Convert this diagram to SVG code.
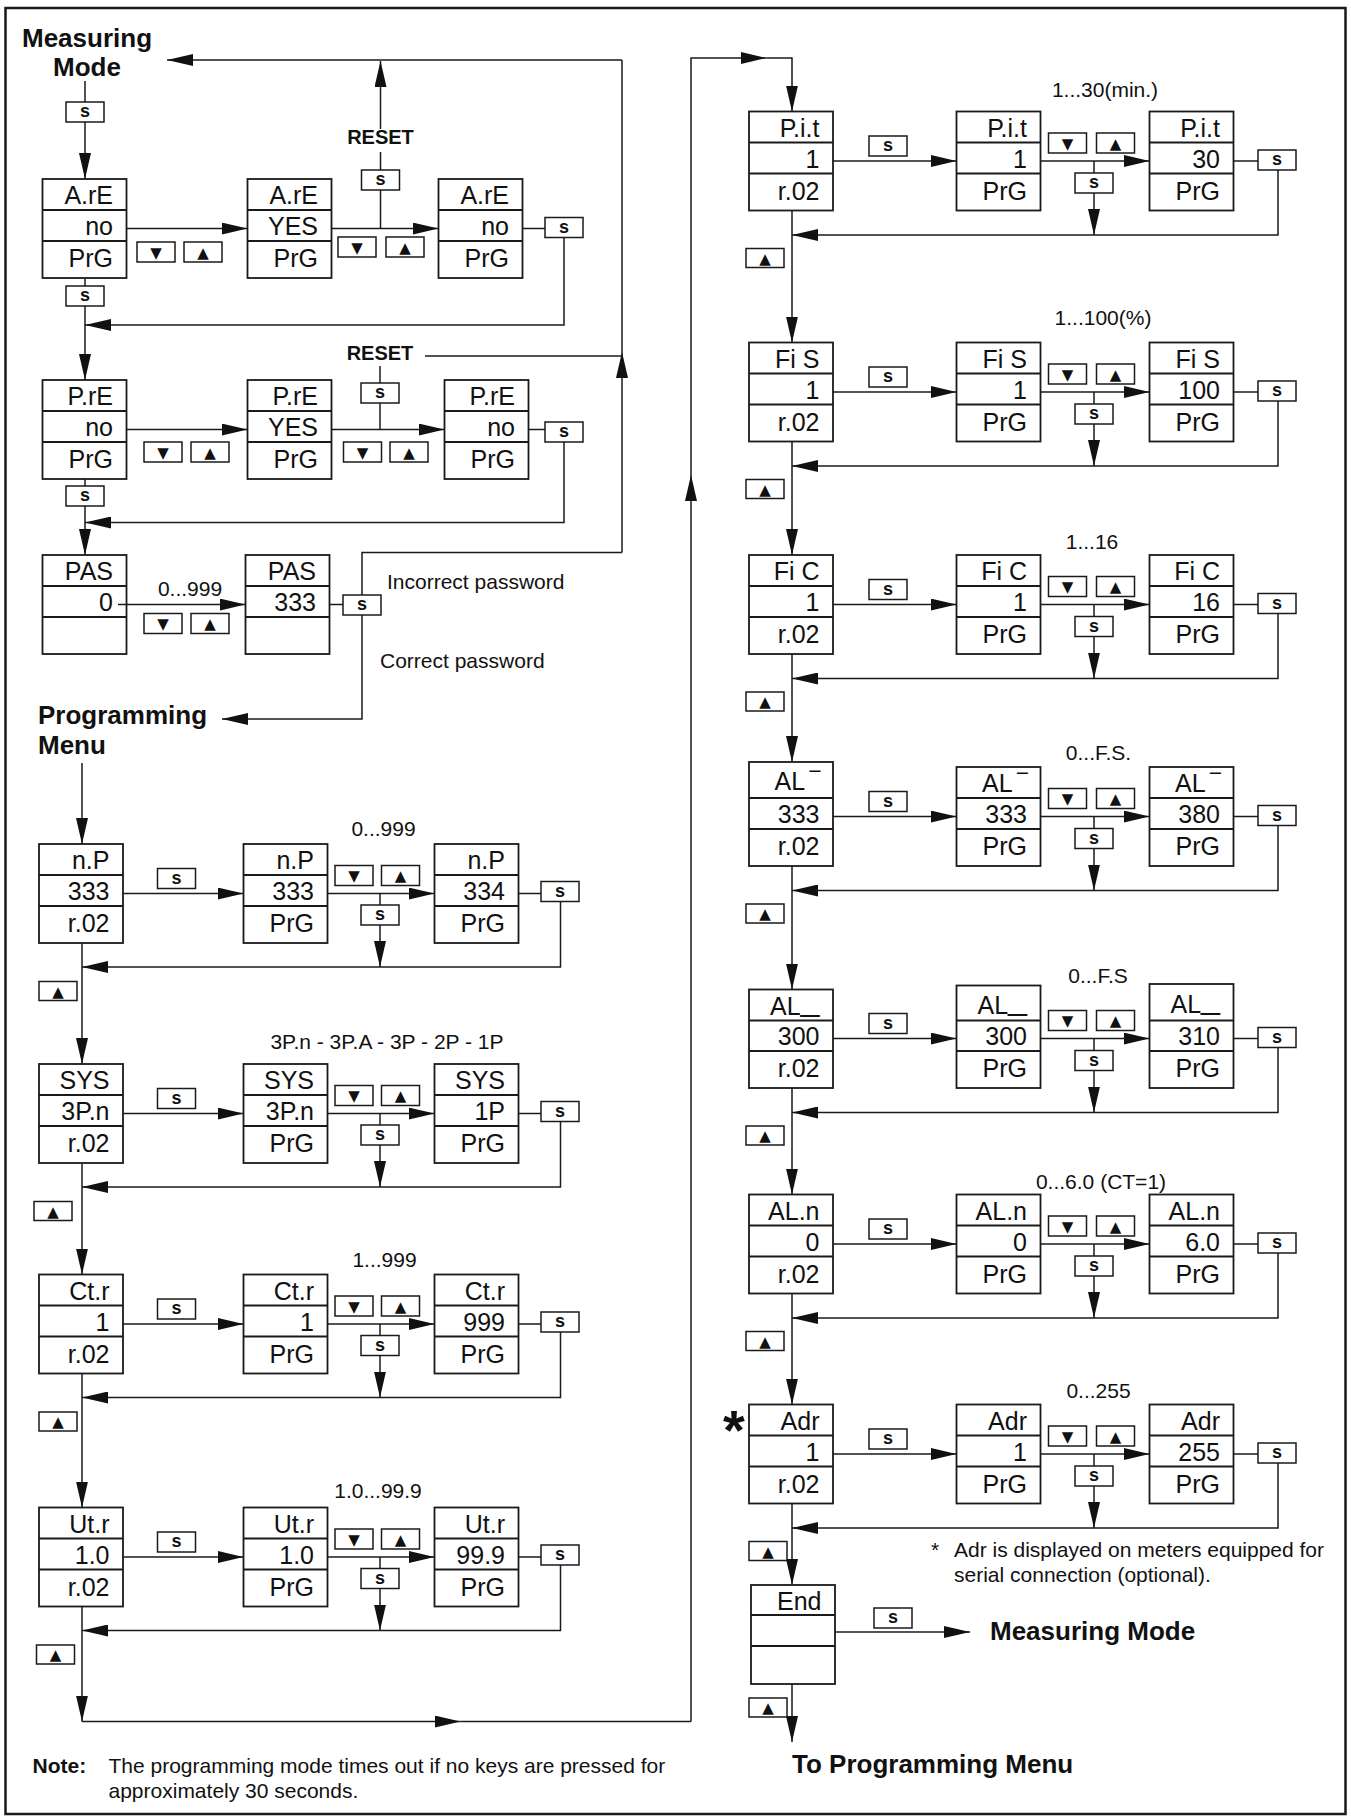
<svg xmlns="http://www.w3.org/2000/svg" width="1351" height="1817" viewBox="0 0 1351 1817">
<style>
.bx{fill:#fff;stroke:#1a1a1a;stroke-width:1.8}
.dv{stroke:#1a1a1a;stroke-width:1.8}
.ln{fill:none;stroke:#1a1a1a;stroke-width:1.5}
.ar{fill:none;stroke:#1a1a1a;stroke-width:1.5;marker-end:url(#ah)}
.t{font-family:"Liberation Sans",Arial,sans-serif;font-size:25px;fill:#111;text-anchor:end}
.lb{font-family:"Liberation Sans",Arial,sans-serif;font-size:21px;fill:#111}
.c{text-anchor:middle}
.hd{font-family:"Liberation Sans",Arial,sans-serif;font-size:26px;font-weight:bold;fill:#111}
.rs{font-family:"Liberation Sans",Arial,sans-serif;font-size:20px;font-weight:bold;fill:#111;text-anchor:middle}
.key{fill:#fff;stroke:#1a1a1a;stroke-width:1.5}
.ks{font-family:"Liberation Sans",Arial,sans-serif;font-size:18px;font-weight:bold;text-anchor:middle;fill:#111}
.kt{font-family:"DejaVu Sans",sans-serif;font-size:15px;text-anchor:middle;fill:#111}
.ov{font-size:28px}
.us{font-size:34px}
</style>
<defs>
<marker id="ah" viewBox="0 0 26 12" markerWidth="26" markerHeight="12" refX="26" refY="6" orient="auto" markerUnits="userSpaceOnUse"><path d="M0,0 L26,6 L0,12 z" fill="#111"/></marker>
</defs>
<rect x="5.5" y="8" width="1340" height="1806" fill="none" stroke="#1a1a1a" stroke-width="2.5"/>

<g id="connectors">
<path class="ar" d="M622,60 H167"/>
<path class="ar" d="M622,552.5 V352"/>
<path class="ln" d="M622,352 V60"/>
<path class="ar" d="M85,81 V179"/>
<path class="ar" d="M126.5,228.5 H247.5"/>
<path class="ar" d="M331.5,228.5 H438.5"/>
<path class="ln" d="M380.5,228.5 V170 M380.5,170 V152"/>
<path class="ar" d="M380.5,129 V61"/>
<path class="ln" d="M522.5,228.5 H545"/>
<path class="ar" d="M564,237.5 V325 H85"/>
<path class="ar" d="M85,278 V380"/>
<path class="ar" d="M126.5,429.5 H247.5"/>
<path class="ar" d="M331.5,429.5 H444.5"/>
<path class="ln" d="M380,429.5 V366"/>
<path class="ln" d="M425,356 H622"/>
<path class="ln" d="M528.5,429.5 H545"/>
<path class="ar" d="M564,442 V522.5 H85"/>
<path class="ar" d="M85,479 V555"/>
<path class="ar" d="M118,604.5 H245.5"/>
<path class="ln" d="M329.5,604.5 H343"/>
<path class="ln" d="M362,595 V552.5 H622"/>
<path class="ar" d="M362,615 V719 H222"/>
<path class="ar" d="M82,763 V844"/>
<path class="ar" d="M123,893.5 H243.5"/>
<path class="ar" d="M327.5,893.5 H434.5"/>
<path class="ar" d="M380,893.5 V967"/>
<path class="ln" d="M518.5,893.5 H541"/>
<path class="ar" d="M560.5,901.5 V967 H82"/>
<path class="ar" d="M82,943 V1064"/>
<path class="ar" d="M123,1113.5 H243.5"/>
<path class="ar" d="M327.5,1113.5 H434.5"/>
<path class="ar" d="M380,1113.5 V1187"/>
<path class="ln" d="M518.5,1113.5 H541"/>
<path class="ar" d="M560.5,1121.5 V1187 H82"/>
<path class="ar" d="M82,1163 V1274.5"/>
<path class="ar" d="M123,1324 H243.5"/>
<path class="ar" d="M327.5,1324 H434.5"/>
<path class="ar" d="M380,1324 V1397.5"/>
<path class="ln" d="M518.5,1324 H541"/>
<path class="ar" d="M560.5,1332 V1397.5 H82"/>
<path class="ar" d="M82,1373.5 V1507.5"/>
<path class="ar" d="M123,1557 H243.5"/>
<path class="ar" d="M327.5,1557 H434.5"/>
<path class="ar" d="M380,1557 V1630.5"/>
<path class="ln" d="M518.5,1557 H541"/>
<path class="ar" d="M560.5,1565 V1630.5 H82"/>
<path class="ar" d="M82,1606.5 V1721.5"/>
<path class="ar" d="M82,1721.5 H460.5"/>
<path class="ln" d="M460.5,1721.5 H691"/>
<path class="ar" d="M691,1721.5 V475"/>
<path class="ar" d="M691,475 V58 H766.5"/>
<path class="ar" d="M766.5,58 H792 V111.5"/>
<path class="ar" d="M833,161 H956.5"/>
<path class="ar" d="M1040.5,161 H1149.5"/>
<path class="ar" d="M1094,161 V235"/>
<path class="ln" d="M1233.5,161 H1258"/>
<path class="ar" d="M1278,170 V235 H792"/>
<path class="ar" d="M792,210.5 V342.5"/>
<path class="ar" d="M833,392 H956.5"/>
<path class="ar" d="M1040.5,392 H1149.5"/>
<path class="ar" d="M1094,392 V466"/>
<path class="ln" d="M1233.5,392 H1258"/>
<path class="ar" d="M1278,401 V466 H792"/>
<path class="ar" d="M792,441.5 V555"/>
<path class="ar" d="M833,604.5 H956.5"/>
<path class="ar" d="M1040.5,604.5 H1149.5"/>
<path class="ar" d="M1094,604.5 V678.5"/>
<path class="ln" d="M1233.5,604.5 H1258"/>
<path class="ar" d="M1278,613.5 V678.5 H792"/>
<path class="ar" d="M792,654 V762"/>
<path class="ar" d="M833,816.5 H956.5"/>
<path class="ar" d="M1040.5,816.5 H1149.5"/>
<path class="ar" d="M1094,816.5 V890.5"/>
<path class="ln" d="M1233.5,816.5 H1258"/>
<path class="ar" d="M1278,825.5 V890.5 H792"/>
<path class="ar" d="M792,866 V989.5"/>
<path class="ar" d="M833,1038.5 H956.5"/>
<path class="ar" d="M1040.5,1038.5 H1149.5"/>
<path class="ar" d="M1094,1038.5 V1112.5"/>
<path class="ln" d="M1233.5,1038.5 H1258"/>
<path class="ar" d="M1278,1047.5 V1112.5 H792"/>
<path class="ar" d="M792,1088 V1194.5"/>
<path class="ar" d="M833,1244 H956.5"/>
<path class="ar" d="M1040.5,1244 H1149.5"/>
<path class="ar" d="M1094,1244 V1318"/>
<path class="ln" d="M1233.5,1244 H1258"/>
<path class="ar" d="M1278,1253 V1318 H792"/>
<path class="ar" d="M792,1293.5 V1404.5"/>
<path class="ar" d="M833,1454 H956.5"/>
<path class="ar" d="M1040.5,1454 H1149.5"/>
<path class="ar" d="M1094,1454 V1528"/>
<path class="ln" d="M1233.5,1454 H1258"/>
<path class="ar" d="M1278,1463 V1528 H792"/>
<path class="ar" d="M792,1503.5 V1585"/>
<path class="ar" d="M835,1632 H970"/>
<path class="ar" d="M792,1684 V1742"/>
</g>

<g id="n-are1"><rect class="bx" x="42.5" y="179" width="84" height="99"/><line class="dv" x1="42.5" y1="210" x2="126.5" y2="210"/><line class="dv" x1="42.5" y1="241" x2="126.5" y2="241"/><text class="t" x="113" y="204">A.rE</text><text class="t" x="113" y="235">no</text><text class="t" x="113" y="267">PrG</text></g>
<g id="n-are2"><rect class="bx" x="247.5" y="179" width="84" height="99"/><line class="dv" x1="247.5" y1="210" x2="331.5" y2="210"/><line class="dv" x1="247.5" y1="241" x2="331.5" y2="241"/><text class="t" x="318" y="204">A.rE</text><text class="t" x="318" y="235">YES</text><text class="t" x="318" y="267">PrG</text></g>
<g id="n-are3"><rect class="bx" x="438.5" y="179" width="84" height="99"/><line class="dv" x1="438.5" y1="210" x2="522.5" y2="210"/><line class="dv" x1="438.5" y1="241" x2="522.5" y2="241"/><text class="t" x="509" y="204">A.rE</text><text class="t" x="509" y="235">no</text><text class="t" x="509" y="267">PrG</text></g>
<g id="n-pre1"><rect class="bx" x="42.5" y="380" width="84" height="99"/><line class="dv" x1="42.5" y1="411" x2="126.5" y2="411"/><line class="dv" x1="42.5" y1="442" x2="126.5" y2="442"/><text class="t" x="113" y="405">P.rE</text><text class="t" x="113" y="436">no</text><text class="t" x="113" y="468">PrG</text></g>
<g id="n-pre2"><rect class="bx" x="247.5" y="380" width="84" height="99"/><line class="dv" x1="247.5" y1="411" x2="331.5" y2="411"/><line class="dv" x1="247.5" y1="442" x2="331.5" y2="442"/><text class="t" x="318" y="405">P.rE</text><text class="t" x="318" y="436">YES</text><text class="t" x="318" y="468">PrG</text></g>
<g id="n-pre3"><rect class="bx" x="444.5" y="380" width="84" height="99"/><line class="dv" x1="444.5" y1="411" x2="528.5" y2="411"/><line class="dv" x1="444.5" y1="442" x2="528.5" y2="442"/><text class="t" x="515" y="405">P.rE</text><text class="t" x="515" y="436">no</text><text class="t" x="515" y="468">PrG</text></g>
<g id="n-pas1"><rect class="bx" x="42.5" y="555" width="84" height="99"/><line class="dv" x1="42.5" y1="586" x2="126.5" y2="586"/><line class="dv" x1="42.5" y1="617" x2="126.5" y2="617"/><text class="t" x="113" y="580">PAS</text><text class="t" x="113" y="611">0</text></g>
<g id="n-pas2"><rect class="bx" x="245.5" y="555" width="84" height="99"/><line class="dv" x1="245.5" y1="586" x2="329.5" y2="586"/><line class="dv" x1="245.5" y1="617" x2="329.5" y2="617"/><text class="t" x="316" y="580">PAS</text><text class="t" x="316" y="611">333</text></g>
<path class="ln" d="M118,604.5 H126.5"/>

<g id="n-np1"><rect class="bx" x="39" y="844" width="84" height="99"/><line class="dv" x1="39" y1="875" x2="123" y2="875"/><line class="dv" x1="39" y1="906" x2="123" y2="906"/><text class="t" x="109.5" y="869">n.P</text><text class="t" x="109.5" y="900">333</text><text class="t" x="109.5" y="932">r.02</text></g>
<g id="n-np2"><rect class="bx" x="243.5" y="844" width="84" height="99"/><line class="dv" x1="243.5" y1="875" x2="327.5" y2="875"/><line class="dv" x1="243.5" y1="906" x2="327.5" y2="906"/><text class="t" x="314" y="869">n.P</text><text class="t" x="314" y="900">333</text><text class="t" x="314" y="932">PrG</text></g>
<g id="n-np3"><rect class="bx" x="434.5" y="844" width="84" height="99"/><line class="dv" x1="434.5" y1="875" x2="518.5" y2="875"/><line class="dv" x1="434.5" y1="906" x2="518.5" y2="906"/><text class="t" x="505" y="869">n.P</text><text class="t" x="505" y="900">334</text><text class="t" x="505" y="932">PrG</text></g>
<g id="n-sys1"><rect class="bx" x="39" y="1064" width="84" height="99"/><line class="dv" x1="39" y1="1095" x2="123" y2="1095"/><line class="dv" x1="39" y1="1126" x2="123" y2="1126"/><text class="t" x="109.5" y="1089">SYS</text><text class="t" x="109.5" y="1120">3P.n</text><text class="t" x="109.5" y="1152">r.02</text></g>
<g id="n-sys2"><rect class="bx" x="243.5" y="1064" width="84" height="99"/><line class="dv" x1="243.5" y1="1095" x2="327.5" y2="1095"/><line class="dv" x1="243.5" y1="1126" x2="327.5" y2="1126"/><text class="t" x="314" y="1089">SYS</text><text class="t" x="314" y="1120">3P.n</text><text class="t" x="314" y="1152">PrG</text></g>
<g id="n-sys3"><rect class="bx" x="434.5" y="1064" width="84" height="99"/><line class="dv" x1="434.5" y1="1095" x2="518.5" y2="1095"/><line class="dv" x1="434.5" y1="1126" x2="518.5" y2="1126"/><text class="t" x="505" y="1089">SYS</text><text class="t" x="505" y="1120">1P</text><text class="t" x="505" y="1152">PrG</text></g>
<g id="n-ctr1"><rect class="bx" x="39" y="1274.5" width="84" height="99"/><line class="dv" x1="39" y1="1305.5" x2="123" y2="1305.5"/><line class="dv" x1="39" y1="1336.5" x2="123" y2="1336.5"/><text class="t" x="109.5" y="1299.5">Ct.r</text><text class="t" x="109.5" y="1330.5">1</text><text class="t" x="109.5" y="1362.5">r.02</text></g>
<g id="n-ctr2"><rect class="bx" x="243.5" y="1274.5" width="84" height="99"/><line class="dv" x1="243.5" y1="1305.5" x2="327.5" y2="1305.5"/><line class="dv" x1="243.5" y1="1336.5" x2="327.5" y2="1336.5"/><text class="t" x="314" y="1299.5">Ct.r</text><text class="t" x="314" y="1330.5">1</text><text class="t" x="314" y="1362.5">PrG</text></g>
<g id="n-ctr3"><rect class="bx" x="434.5" y="1274.5" width="84" height="99"/><line class="dv" x1="434.5" y1="1305.5" x2="518.5" y2="1305.5"/><line class="dv" x1="434.5" y1="1336.5" x2="518.5" y2="1336.5"/><text class="t" x="505" y="1299.5">Ct.r</text><text class="t" x="505" y="1330.5">999</text><text class="t" x="505" y="1362.5">PrG</text></g>
<g id="n-utr1"><rect class="bx" x="39" y="1507.5" width="84" height="99"/><line class="dv" x1="39" y1="1538.5" x2="123" y2="1538.5"/><line class="dv" x1="39" y1="1569.5" x2="123" y2="1569.5"/><text class="t" x="109.5" y="1532.5">Ut.r</text><text class="t" x="109.5" y="1563.5">1.0</text><text class="t" x="109.5" y="1595.5">r.02</text></g>
<g id="n-utr2"><rect class="bx" x="243.5" y="1507.5" width="84" height="99"/><line class="dv" x1="243.5" y1="1538.5" x2="327.5" y2="1538.5"/><line class="dv" x1="243.5" y1="1569.5" x2="327.5" y2="1569.5"/><text class="t" x="314" y="1532.5">Ut.r</text><text class="t" x="314" y="1563.5">1.0</text><text class="t" x="314" y="1595.5">PrG</text></g>
<g id="n-utr3"><rect class="bx" x="434.5" y="1507.5" width="84" height="99"/><line class="dv" x1="434.5" y1="1538.5" x2="518.5" y2="1538.5"/><line class="dv" x1="434.5" y1="1569.5" x2="518.5" y2="1569.5"/><text class="t" x="505" y="1532.5">Ut.r</text><text class="t" x="505" y="1563.5">99.9</text><text class="t" x="505" y="1595.5">PrG</text></g>

<g id="n-pit1"><rect class="bx" x="749" y="111.5" width="84" height="99"/><line class="dv" x1="749" y1="142.5" x2="833" y2="142.5"/><line class="dv" x1="749" y1="173.5" x2="833" y2="173.5"/><text class="t" x="819.5" y="136.5">P.i.t</text><text class="t" x="819.5" y="167.5">1</text><text class="t" x="819.5" y="199.5">r.02</text></g>
<g id="n-pit2"><rect class="bx" x="956.5" y="111.5" width="84" height="99"/><line class="dv" x1="956.5" y1="142.5" x2="1040.5" y2="142.5"/><line class="dv" x1="956.5" y1="173.5" x2="1040.5" y2="173.5"/><text class="t" x="1027" y="136.5">P.i.t</text><text class="t" x="1027" y="167.5">1</text><text class="t" x="1027" y="199.5">PrG</text></g>
<g id="n-pit3"><rect class="bx" x="1149.5" y="111.5" width="84" height="99"/><line class="dv" x1="1149.5" y1="142.5" x2="1233.5" y2="142.5"/><line class="dv" x1="1149.5" y1="173.5" x2="1233.5" y2="173.5"/><text class="t" x="1220" y="136.5">P.i.t</text><text class="t" x="1220" y="167.5">30</text><text class="t" x="1220" y="199.5">PrG</text></g>
<g id="n-fis1"><rect class="bx" x="749" y="342.5" width="84" height="99"/><line class="dv" x1="749" y1="373.5" x2="833" y2="373.5"/><line class="dv" x1="749" y1="404.5" x2="833" y2="404.5"/><text class="t" x="819.5" y="367.5">Fi S</text><text class="t" x="819.5" y="398.5">1</text><text class="t" x="819.5" y="430.5">r.02</text></g>
<g id="n-fis2"><rect class="bx" x="956.5" y="342.5" width="84" height="99"/><line class="dv" x1="956.5" y1="373.5" x2="1040.5" y2="373.5"/><line class="dv" x1="956.5" y1="404.5" x2="1040.5" y2="404.5"/><text class="t" x="1027" y="367.5">Fi S</text><text class="t" x="1027" y="398.5">1</text><text class="t" x="1027" y="430.5">PrG</text></g>
<g id="n-fis3"><rect class="bx" x="1149.5" y="342.5" width="84" height="99"/><line class="dv" x1="1149.5" y1="373.5" x2="1233.5" y2="373.5"/><line class="dv" x1="1149.5" y1="404.5" x2="1233.5" y2="404.5"/><text class="t" x="1220" y="367.5">Fi S</text><text class="t" x="1220" y="398.5">100</text><text class="t" x="1220" y="430.5">PrG</text></g>
<g id="n-fic1"><rect class="bx" x="749" y="555" width="84" height="99"/><line class="dv" x1="749" y1="586" x2="833" y2="586"/><line class="dv" x1="749" y1="617" x2="833" y2="617"/><text class="t" x="819.5" y="580">Fi C</text><text class="t" x="819.5" y="611">1</text><text class="t" x="819.5" y="643">r.02</text></g>
<g id="n-fic2"><rect class="bx" x="956.5" y="555" width="84" height="99"/><line class="dv" x1="956.5" y1="586" x2="1040.5" y2="586"/><line class="dv" x1="956.5" y1="617" x2="1040.5" y2="617"/><text class="t" x="1027" y="580">Fi C</text><text class="t" x="1027" y="611">1</text><text class="t" x="1027" y="643">PrG</text></g>
<g id="n-fic3"><rect class="bx" x="1149.5" y="555" width="84" height="99"/><line class="dv" x1="1149.5" y1="586" x2="1233.5" y2="586"/><line class="dv" x1="1149.5" y1="617" x2="1233.5" y2="617"/><text class="t" x="1220" y="580">Fi C</text><text class="t" x="1220" y="611">16</text><text class="t" x="1220" y="643">PrG</text></g>
<g id="n-alh1"><rect class="bx" x="749" y="762" width="84" height="104"/><line class="dv" x1="749" y1="798" x2="833" y2="798"/><line class="dv" x1="749" y1="829" x2="833" y2="829"/><text class="t" x="819.5" y="790">AL<tspan class="ov" dx="5" dy="2">‾</tspan></text><text class="t" x="819.5" y="823">333</text><text class="t" x="819.5" y="855">r.02</text></g>
<g id="n-alh2"><rect class="bx" x="956.5" y="767" width="84" height="99"/><line class="dv" x1="956.5" y1="798" x2="1040.5" y2="798"/><line class="dv" x1="956.5" y1="829" x2="1040.5" y2="829"/><text class="t" x="1027" y="792">AL<tspan class="ov" dx="5" dy="2">‾</tspan></text><text class="t" x="1027" y="823">333</text><text class="t" x="1027" y="855">PrG</text></g>
<g id="n-alh3"><rect class="bx" x="1149.5" y="767" width="84" height="99"/><line class="dv" x1="1149.5" y1="798" x2="1233.5" y2="798"/><line class="dv" x1="1149.5" y1="829" x2="1233.5" y2="829"/><text class="t" x="1220" y="792">AL<tspan class="ov" dx="5" dy="2">‾</tspan></text><text class="t" x="1220" y="823">380</text><text class="t" x="1220" y="855">PrG</text></g>
<g id="n-all1"><rect class="bx" x="749" y="989.5" width="84" height="98.5"/><line class="dv" x1="749" y1="1020.5" x2="833" y2="1020.5"/><line class="dv" x1="749" y1="1051" x2="833" y2="1051"/><text class="t" x="819.5" y="1014.5">AL<tspan class="us" dy="-5">_</tspan></text><text class="t" x="819.5" y="1045">300</text><text class="t" x="819.5" y="1077">r.02</text></g>
<g id="n-all2"><rect class="bx" x="956.5" y="985.5" width="84" height="102.5"/><line class="dv" x1="956.5" y1="1020.5" x2="1040.5" y2="1020.5"/><line class="dv" x1="956.5" y1="1051" x2="1040.5" y2="1051"/><text class="t" x="1027" y="1013.5">AL<tspan class="us" dy="-5">_</tspan></text><text class="t" x="1027" y="1045">300</text><text class="t" x="1027" y="1077">PrG</text></g>
<g id="n-all3"><rect class="bx" x="1149.5" y="984" width="84" height="104"/><line class="dv" x1="1149.5" y1="1020.5" x2="1233.5" y2="1020.5"/><line class="dv" x1="1149.5" y1="1051" x2="1233.5" y2="1051"/><text class="t" x="1220" y="1012.5">AL<tspan class="us" dy="-5">_</tspan></text><text class="t" x="1220" y="1045">310</text><text class="t" x="1220" y="1077">PrG</text></g>
<g id="n-aln1"><rect class="bx" x="749" y="1194.5" width="84" height="99"/><line class="dv" x1="749" y1="1225.5" x2="833" y2="1225.5"/><line class="dv" x1="749" y1="1256.5" x2="833" y2="1256.5"/><text class="t" x="819.5" y="1219.5">AL.n</text><text class="t" x="819.5" y="1250.5">0</text><text class="t" x="819.5" y="1282.5">r.02</text></g>
<g id="n-aln2"><rect class="bx" x="956.5" y="1194.5" width="84" height="99"/><line class="dv" x1="956.5" y1="1225.5" x2="1040.5" y2="1225.5"/><line class="dv" x1="956.5" y1="1256.5" x2="1040.5" y2="1256.5"/><text class="t" x="1027" y="1219.5">AL.n</text><text class="t" x="1027" y="1250.5">0</text><text class="t" x="1027" y="1282.5">PrG</text></g>
<g id="n-aln3"><rect class="bx" x="1149.5" y="1194.5" width="84" height="99"/><line class="dv" x1="1149.5" y1="1225.5" x2="1233.5" y2="1225.5"/><line class="dv" x1="1149.5" y1="1256.5" x2="1233.5" y2="1256.5"/><text class="t" x="1220" y="1219.5">AL.n</text><text class="t" x="1220" y="1250.5">6.0</text><text class="t" x="1220" y="1282.5">PrG</text></g>
<g id="n-adr1"><rect class="bx" x="749" y="1404.5" width="84" height="99"/><line class="dv" x1="749" y1="1435.5" x2="833" y2="1435.5"/><line class="dv" x1="749" y1="1466.5" x2="833" y2="1466.5"/><text class="t" x="819.5" y="1429.5">Adr</text><text class="t" x="819.5" y="1460.5">1</text><text class="t" x="819.5" y="1492.5">r.02</text></g>
<g id="n-adr2"><rect class="bx" x="956.5" y="1404.5" width="84" height="99"/><line class="dv" x1="956.5" y1="1435.5" x2="1040.5" y2="1435.5"/><line class="dv" x1="956.5" y1="1466.5" x2="1040.5" y2="1466.5"/><text class="t" x="1027" y="1429.5">Adr</text><text class="t" x="1027" y="1460.5">1</text><text class="t" x="1027" y="1492.5">PrG</text></g>
<g id="n-adr3"><rect class="bx" x="1149.5" y="1404.5" width="84" height="99"/><line class="dv" x1="1149.5" y1="1435.5" x2="1233.5" y2="1435.5"/><line class="dv" x1="1149.5" y1="1466.5" x2="1233.5" y2="1466.5"/><text class="t" x="1220" y="1429.5">Adr</text><text class="t" x="1220" y="1460.5">255</text><text class="t" x="1220" y="1492.5">PrG</text></g>
<g id="n-end"><rect class="bx" x="751" y="1585" width="84" height="99"/><line class="dv" x1="751" y1="1615" x2="835" y2="1615"/><line class="dv" x1="751" y1="1646" x2="835" y2="1646"/><text class="t" x="821.5" y="1610">End</text></g>

<g id="keys">
<rect class="key" x="66" y="102" width="38" height="20"/><text class="ks" x="85" y="117">s</text>
<rect class="key" x="137" y="242" width="38" height="20"/><text class="kt" x="156" y="257.5">▼</text>
<rect class="key" x="184" y="242" width="38" height="20"/><text class="kt" x="203" y="257.5">▲</text>
<rect class="key" x="338" y="237" width="38" height="20"/><text class="kt" x="357" y="252.5">▼</text>
<rect class="key" x="386" y="237" width="38" height="20"/><text class="kt" x="405" y="252.5">▲</text>
<rect class="key" x="361.5" y="170" width="38" height="20"/><text class="ks" x="380.5" y="185">s</text>
<rect class="key" x="545" y="217.5" width="38" height="20"/><text class="ks" x="564" y="232.5">s</text>
<rect class="key" x="66" y="286" width="38" height="20"/><text class="ks" x="85" y="301">s</text>
<rect class="key" x="144" y="442" width="38" height="20"/><text class="kt" x="163" y="457.5">▼</text>
<rect class="key" x="191" y="442" width="38" height="20"/><text class="kt" x="210" y="457.5">▲</text>
<rect class="key" x="343.5" y="442" width="38" height="20"/><text class="kt" x="362.5" y="457.5">▼</text>
<rect class="key" x="390" y="442" width="38" height="20"/><text class="kt" x="409" y="457.5">▲</text>
<rect class="key" x="361" y="383" width="38" height="20"/><text class="ks" x="380" y="398">s</text>
<rect class="key" x="545" y="422" width="38" height="20"/><text class="ks" x="564" y="437">s</text>
<rect class="key" x="66" y="486" width="38" height="20"/><text class="ks" x="85" y="501">s</text>
<rect class="key" x="144" y="613.5" width="38" height="20"/><text class="kt" x="163" y="629">▼</text>
<rect class="key" x="191" y="613.5" width="38" height="20"/><text class="kt" x="210" y="629">▲</text>
<rect class="key" x="343" y="595" width="38" height="20"/><text class="ks" x="362" y="610">s</text>

<rect class="key" x="157.5" y="868.5" width="38" height="20"/><text class="ks" x="176.5" y="883.5">s</text>
<rect class="key" x="335" y="865.5" width="38" height="20"/><text class="kt" x="354" y="881">▼</text>
<rect class="key" x="381.5" y="865.5" width="38" height="20"/><text class="kt" x="400.5" y="881">▲</text>
<rect class="key" x="361" y="905" width="38" height="20"/><text class="ks" x="380" y="920">s</text>
<rect class="key" x="541" y="881.5" width="38" height="20"/><text class="ks" x="560" y="896.5">s</text>
<rect class="key" x="39" y="981.5" width="38" height="19"/><text class="kt" x="58" y="996.5">▲</text>
<rect class="key" x="157.5" y="1088.5" width="38" height="20"/><text class="ks" x="176.5" y="1103.5">s</text>
<rect class="key" x="335" y="1085.5" width="38" height="20"/><text class="kt" x="354" y="1101">▼</text>
<rect class="key" x="381.5" y="1085.5" width="38" height="20"/><text class="kt" x="400.5" y="1101">▲</text>
<rect class="key" x="361" y="1125" width="38" height="20"/><text class="ks" x="380" y="1140">s</text>
<rect class="key" x="541" y="1101.5" width="38" height="20"/><text class="ks" x="560" y="1116.5">s</text>
<rect class="key" x="34" y="1201.5" width="38" height="19"/><text class="kt" x="53" y="1216.5">▲</text>
<rect class="key" x="157.5" y="1299" width="38" height="20"/><text class="ks" x="176.5" y="1314">s</text>
<rect class="key" x="335" y="1296" width="38" height="20"/><text class="kt" x="354" y="1311.5">▼</text>
<rect class="key" x="381.5" y="1296" width="38" height="20"/><text class="kt" x="400.5" y="1311.5">▲</text>
<rect class="key" x="361" y="1335.5" width="38" height="20"/><text class="ks" x="380" y="1350.5">s</text>
<rect class="key" x="541" y="1312" width="38" height="20"/><text class="ks" x="560" y="1327">s</text>
<rect class="key" x="39" y="1412" width="38" height="19"/><text class="kt" x="58" y="1427">▲</text>
<rect class="key" x="157.5" y="1532" width="38" height="20"/><text class="ks" x="176.5" y="1547">s</text>
<rect class="key" x="335" y="1529" width="38" height="20"/><text class="kt" x="354" y="1544.5">▼</text>
<rect class="key" x="381.5" y="1529" width="38" height="20"/><text class="kt" x="400.5" y="1544.5">▲</text>
<rect class="key" x="361" y="1568.5" width="38" height="20"/><text class="ks" x="380" y="1583.5">s</text>
<rect class="key" x="541" y="1545" width="38" height="20"/><text class="ks" x="560" y="1560">s</text>
<rect class="key" x="36.5" y="1645" width="38" height="19"/><text class="kt" x="55.5" y="1660">▲</text>

<rect class="key" x="869" y="136" width="38" height="20"/><text class="ks" x="888" y="151">s</text>
<rect class="key" x="1048.5" y="133" width="38" height="20"/><text class="kt" x="1067.5" y="148.5">▼</text>
<rect class="key" x="1096.5" y="133" width="38" height="20"/><text class="kt" x="1115.5" y="148.5">▲</text>
<rect class="key" x="1075" y="173" width="38" height="20"/><text class="ks" x="1094" y="188">s</text>
<rect class="key" x="1258" y="150" width="38" height="20"/><text class="ks" x="1277" y="165">s</text>
<rect class="key" x="746" y="248.5" width="38" height="19"/><text class="kt" x="765" y="263.5">▲</text>
<rect class="key" x="869" y="367" width="38" height="20"/><text class="ks" x="888" y="382">s</text>
<rect class="key" x="1048.5" y="364" width="38" height="20"/><text class="kt" x="1067.5" y="379.5">▼</text>
<rect class="key" x="1096.5" y="364" width="38" height="20"/><text class="kt" x="1115.5" y="379.5">▲</text>
<rect class="key" x="1075" y="404" width="38" height="20"/><text class="ks" x="1094" y="419">s</text>
<rect class="key" x="1258" y="381" width="38" height="20"/><text class="ks" x="1277" y="396">s</text>
<rect class="key" x="746" y="479.5" width="38" height="19"/><text class="kt" x="765" y="494.5">▲</text>
<rect class="key" x="869" y="579.5" width="38" height="20"/><text class="ks" x="888" y="594.5">s</text>
<rect class="key" x="1048.5" y="576.5" width="38" height="20"/><text class="kt" x="1067.5" y="592">▼</text>
<rect class="key" x="1096.5" y="576.5" width="38" height="20"/><text class="kt" x="1115.5" y="592">▲</text>
<rect class="key" x="1075" y="616.5" width="38" height="20"/><text class="ks" x="1094" y="631.5">s</text>
<rect class="key" x="1258" y="593.5" width="38" height="20"/><text class="ks" x="1277" y="608.5">s</text>
<rect class="key" x="746" y="692" width="38" height="19"/><text class="kt" x="765" y="707">▲</text>
<rect class="key" x="869" y="791.5" width="38" height="20"/><text class="ks" x="888" y="806.5">s</text>
<rect class="key" x="1048.5" y="788.5" width="38" height="20"/><text class="kt" x="1067.5" y="804">▼</text>
<rect class="key" x="1096.5" y="788.5" width="38" height="20"/><text class="kt" x="1115.5" y="804">▲</text>
<rect class="key" x="1075" y="828.5" width="38" height="20"/><text class="ks" x="1094" y="843.5">s</text>
<rect class="key" x="1258" y="805.5" width="38" height="20"/><text class="ks" x="1277" y="820.5">s</text>
<rect class="key" x="746" y="904" width="38" height="19"/><text class="kt" x="765" y="919">▲</text>
<rect class="key" x="869" y="1013.5" width="38" height="20"/><text class="ks" x="888" y="1028.5">s</text>
<rect class="key" x="1048.5" y="1010.5" width="38" height="20"/><text class="kt" x="1067.5" y="1026">▼</text>
<rect class="key" x="1096.5" y="1010.5" width="38" height="20"/><text class="kt" x="1115.5" y="1026">▲</text>
<rect class="key" x="1075" y="1050.5" width="38" height="20"/><text class="ks" x="1094" y="1065.5">s</text>
<rect class="key" x="1258" y="1027.5" width="38" height="20"/><text class="ks" x="1277" y="1042.5">s</text>
<rect class="key" x="746" y="1126" width="38" height="19"/><text class="kt" x="765" y="1141">▲</text>
<rect class="key" x="869" y="1219" width="38" height="20"/><text class="ks" x="888" y="1234">s</text>
<rect class="key" x="1048.5" y="1216" width="38" height="20"/><text class="kt" x="1067.5" y="1231.5">▼</text>
<rect class="key" x="1096.5" y="1216" width="38" height="20"/><text class="kt" x="1115.5" y="1231.5">▲</text>
<rect class="key" x="1075" y="1256" width="38" height="20"/><text class="ks" x="1094" y="1271">s</text>
<rect class="key" x="1258" y="1233" width="38" height="20"/><text class="ks" x="1277" y="1248">s</text>
<rect class="key" x="746" y="1331.5" width="38" height="19"/><text class="kt" x="765" y="1346.5">▲</text>
<rect class="key" x="869" y="1429" width="38" height="20"/><text class="ks" x="888" y="1444">s</text>
<rect class="key" x="1048.5" y="1426" width="38" height="20"/><text class="kt" x="1067.5" y="1441.5">▼</text>
<rect class="key" x="1096.5" y="1426" width="38" height="20"/><text class="kt" x="1115.5" y="1441.5">▲</text>
<rect class="key" x="1075" y="1466" width="38" height="20"/><text class="ks" x="1094" y="1481">s</text>
<rect class="key" x="1258" y="1443" width="38" height="20"/><text class="ks" x="1277" y="1458">s</text>
<rect class="key" x="749" y="1541.5" width="38" height="19"/><text class="kt" x="768" y="1556.5">▲</text>
<rect class="key" x="874" y="1608" width="38" height="20"/><text class="ks" x="893" y="1623">s</text>
<rect class="key" x="749" y="1698" width="38" height="19"/><text class="kt" x="768" y="1713">▲</text>
</g>

<g id="labels">
<text class="hd c" x="87" y="46.5">Measuring</text>
<text class="hd c" x="87" y="76">Mode</text>
<text class="rs" x="380.5" y="144">RESET</text>
<text class="rs" x="380" y="359.5">RESET</text>
<text class="lb c" x="190" y="595.5">0...999</text>
<text class="lb" x="387" y="589">Incorrect password</text>
<text class="lb" x="380" y="668">Correct password</text>
<text class="hd" x="38" y="724">Programming</text>
<text class="hd" x="38" y="754">Menu</text>
<text class="lb c" x="383.5" y="836">0...999</text>
<text class="lb c" x="387" y="1049">3P.n - 3P.A - 3P - 2P - 1P</text>
<text class="lb c" x="384.5" y="1267">1...999</text>
<text class="lb c" x="378" y="1497.5">1.0...99.9</text>
<text class="lb c" x="1105" y="96.5">1...30(min.)</text>
<text class="lb c" x="1103" y="325">1...100(%)</text>
<text class="lb c" x="1092" y="548.5">1...16</text>
<text class="lb c" x="1098.5" y="760">0...F.S.</text>
<text class="lb c" x="1098" y="982.5">0...F.S</text>
<text class="lb c" x="1101" y="1188.5">0...6.0 (CT=1)</text>
<text class="lb c" x="1098.5" y="1397.5">0...255</text>
<text class="hd c" x="734" y="1449" style="font-size:56px">*</text>
<text class="lb c" x="935" y="1557">*</text>
<text class="lb" x="954" y="1556.5">Adr is displayed on meters equipped for</text>
<text class="lb" x="954" y="1581.5">serial connection (optional).</text>
<text class="hd" x="990" y="1640">Measuring Mode</text>
<text class="hd" x="792" y="1773">To Programming Menu</text>
<text class="lb" x="32.5" y="1772.5" style="font-weight:bold">Note:</text>
<text class="lb" x="108.5" y="1772.5">The programming mode times out if no keys are pressed for</text>
<text class="lb" x="108.5" y="1798">approximately 30 seconds.</text>
</g>
</svg>
